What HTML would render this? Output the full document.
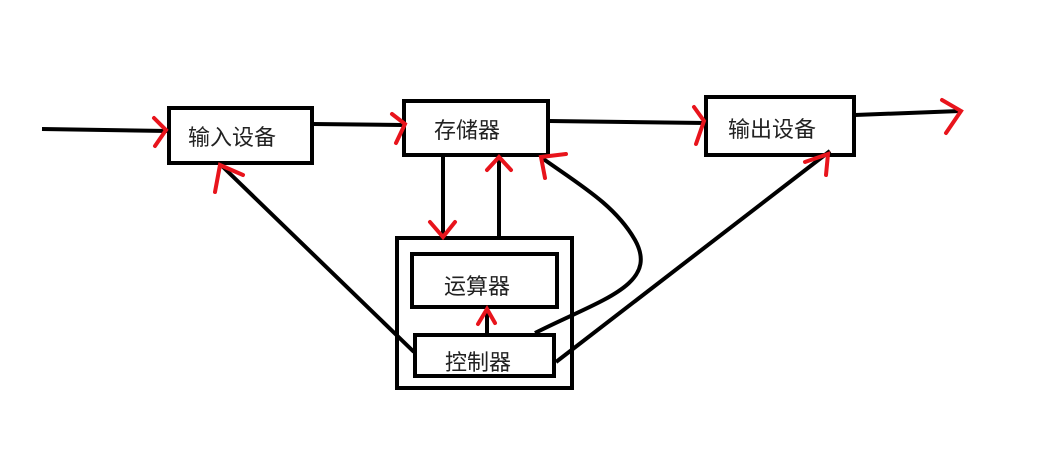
<!DOCTYPE html>
<html><head><meta charset="utf-8"><style>
body{margin:0;background:#fff;width:1047px;height:464px;overflow:hidden}
text{font-family:"Liberation Sans","Noto Sans CJK SC",sans-serif;font-size:22px;fill:#222}
</style></head><body>
<svg width="1047" height="464" viewBox="0 0 1047 464">
<g fill="none" stroke="#000" stroke-width="4">
<rect x="169" y="108" width="143" height="55"/>
<rect x="404" y="101" width="144" height="54"/>
<rect x="706" y="97" width="148" height="58"/>
<rect x="397" y="238" width="175" height="150"/>
<rect x="412" y="254" width="145" height="53"/>
<rect x="415" y="335" width="139" height="41"/>
<path d="M42 129 L168 131"/>
<path d="M313 124 L403 125"/>
<path d="M549 121 L705 123"/>
<path d="M855 115 L960 111"/>
<path d="M443 156 L443 237"/>
<path d="M499 237 L499 156"/>
<path d="M487 336 L487 308"/>
<path d="M414 352 L222 166"/>
<path d="M535 333 C600 300 660 285 635 240 C615 205 580 185 542 158"/>
<path d="M556 362 L830 151"/>
</g>
<g fill="none" stroke="#e8141c" stroke-width="4" stroke-linecap="round">
<path d="M154 118 L166 130 L155 146"/>
<path d="M392 114 L405 124 L396 143"/>
<path d="M694 107 L704 121 L696 144"/>
<path d="M942 100 L961 111 L946 133"/>
<path d="M215 192 L220 165 L243 175"/>
<path d="M430 222 L443 237 L455 222"/>
<path d="M487 170 L499 157 L511 170"/>
<path d="M545 178 L541 157 L566 154"/>
<path d="M478 324 L487 309 L495 323"/>
<path d="M805 162 L828 154 L826 175"/>
</g>
<text x="188" y="145">输入设备</text>
<text x="434" y="138">存储器</text>
<text x="728" y="137">输出设备</text>
<text x="444" y="294">运算器</text>
<text x="445" y="370">控制器</text>
</svg>
</body></html>
